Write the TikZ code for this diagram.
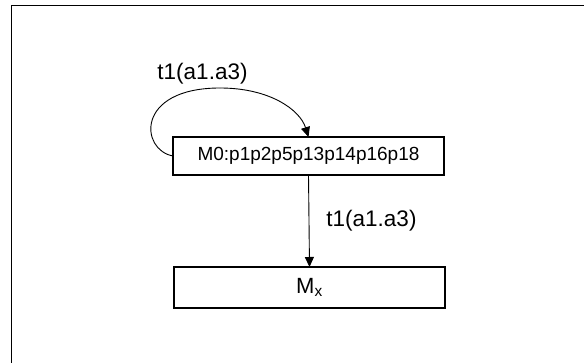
\documentclass[tikz,border=0pt]{standalone}
\usepackage{fontspec}
\setmainfont{Liberation Sans}
\usetikzlibrary{arrows.meta}
\tikzset{
  statebox/.style={draw, rectangle, inner sep=0pt, outer sep=0pt, minimum width=271pt},
  initbox/.style={statebox, line width=2.4pt, minimum height=38pt, font=\fontsize{19}{23}\selectfont},
  plainbox/.style={statebox, line width=1.2pt, minimum height=41pt, font=\fontsize{22}{26}\selectfont},
  trans/.style={line width=0.9pt, -{Triangle[length=10pt,width=9pt]}},
  translabel/.style={inner sep=0pt, font=\fontsize{22.5}{27}\selectfont},
  frameline/.style={line width=1.4pt}
}
\begin{document}
\begin{tikzpicture}[x=1pt,y=-1pt]
\clip (0,0) rectangle (584,363);
\useasboundingbox (0,0) rectangle (584,363);
\draw[frameline] (11.5,400) -- (11.5,5.5) -- (620,5.5);
\node[initbox] (m0) at (308.5,156) {M0:p1p2p5p13p14p16p18};
\node[plainbox] (mx) at (309.5,287.5) {M\textsubscript{x}};
\coordinate (peak) at (220,88);
\draw[line width=0.9pt] (m0.west) .. controls (140,150) and (135,88) .. (peak);
\draw[trans] (peak) .. controls (270,88) and (300,110) .. (m0.north);
\node[translabel] (lab1) at (202.5,74) {t1(a1.a3)};
\draw[trans] (m0.south) -- (mx.north) node[translabel, midway, anchor=west, xshift=17pt] (lab2) {t1(a1.a3)};
\end{tikzpicture}
\end{document}
